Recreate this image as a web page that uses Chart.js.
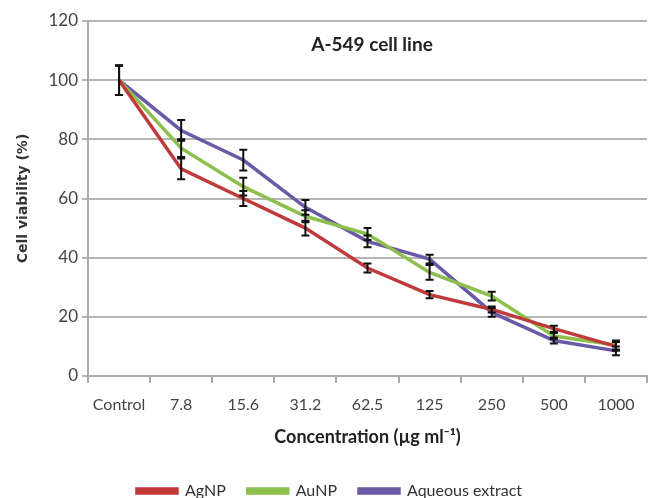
<!DOCTYPE html>
<html>
<head>
<meta charset="utf-8">
<script src="https://cdn.jsdelivr.net/npm/chart.js@4"></script>
<style>
  html, body { margin: 0; padding: 0; background: #fff; }
  #wrap { width: 648px; height: 498px; position: relative; }
</style>
</head>
<body>
<div id="wrap"><canvas id="grafico"></canvas></div>
<script>
const categorias = ['Control', '7.8', '15.6', '31.2', '62.5', '125', '250', '500', '1000'];
const agnp = [100, 70, 60, 50, 36.5, 27.5, 22.5, 16, 10];
const aunp = [100, 77, 64, 54, 48, 35, 27, 13.5, 10.5];
const acuoso = [100, 83, 73, 57, 45.5, 39.5, 21.5, 12, 8.5];
const errAgnp = [5, 3.5, 2.5, 2.5, 1.5, 1.2, 1, 1, 1.5];
const errAunp = [5, 3, 3, 2, 2, 2.5, 1.5, 1, 1.5];
const errAcuoso = [5, 3.5, 3.5, 2.5, 2, 1.5, 1.5, 1, 1.5];
const ticksY = [0, 20, 40, 60, 80, 100, 120];

const fuente = "'Lato', sans-serif";

// barras de error y titulo interno
const extras = {
  id: 'extras',
  afterDatasetsDraw: function (chart) {
    const ctx = chart.ctx;
    const y = chart.scales.y;
    ctx.save();
    ctx.strokeStyle = '#111';
    ctx.lineWidth = 2;
    chart.data.datasets.forEach(function (ds, i) {
      const meta = chart.getDatasetMeta(i);
      meta.data.forEach(function (pt, j) {
        const e = ds.errores[j];
        const y1 = y.getPixelForValue(ds.data[j] + e);
        const y2 = y.getPixelForValue(ds.data[j] - e);
        ctx.beginPath();
        ctx.moveTo(pt.x, y1); ctx.lineTo(pt.x, y2);
        ctx.moveTo(pt.x - 4, y1); ctx.lineTo(pt.x + 4, y1);
        ctx.moveTo(pt.x - 4, y2); ctx.lineTo(pt.x + 4, y2);
        ctx.stroke();
      });
    });
    ctx.fillStyle = '#222';
    ctx.font = "bold 19px " + fuente;
    ctx.textAlign = 'center';
    ctx.textBaseline = 'middle';
    ctx.fillText('A-549 cell line', 372, 45);
    ctx.restore();
  }
};

function serie(nombre, datos, errores, color) {
  return {
    label: nombre,
    data: datos,
    errores: errores,
    borderColor: color,
    backgroundColor: color,
    borderWidth: 3.5,
    pointRadius: 0,
    tension: 0
  };
}

new Chart(document.getElementById('grafico'), {
  type: 'line',
  data: {
    labels: categorias,
    datasets: [
      serie('AgNP', agnp, errAgnp, '#c0393b'),
      serie('AuNP', aunp, errAunp, '#8dbf4c'),
      serie('Aqueous extract', acuoso, errAcuoso, '#6a5aa6')
    ]
  },
  options: {
    responsive: true,
    maintainAspectRatio: false,
    animation: false,
    layout: { padding: { top: 21, right: 1, left: 12, bottom: -11 } },
    scales: {
      x: {
        offset: true,
        afterFit: function (s) { s.height = 85; },
        grid: { display: true, drawOnChartArea: false, offset: true, tickLength: 7, color: '#aaa', lineWidth: 2 },
        border: { color: '#aaa', width: 2 },
        ticks: { color: '#444', font: { family: fuente, size: 16 }, padding: 12, maxRotation: 0 },
        title: { display: true, text: 'Concentration (µg ml⁻¹)', color: '#222', font: { family: fuente, size: 18, weight: 'bold' }, padding: { top: 14, bottom: 13 } }
      },
      y: {
        min: 0,
        max: 120,
        afterFit: function (s) { s.width = 76; },
        afterBuildTicks: function (ax) {
          ax.ticks = ticksY.map(function (v) { return { value: v }; });
        },
        grid: { color: '#b5b5b5', lineWidth: 2, tickLength: 6 },
        border: { color: '#aaa', width: 2 },
        ticks: { color: '#444', font: { family: fuente, size: 17 }, padding: 4 },
        title: { display: true, text: 'Cell viability (%)', color: '#333', font: { family: "'DejaVu Sans', sans-serif", size: 14, weight: 'bold' }, padding: { top: 3, bottom: 8 } }
      }
    },
    plugins: {
      legend: {
        position: 'bottom',
        labels: { color: '#333', boxWidth: 40, boxHeight: 4, padding: 22, font: { family: fuente, size: 16 } }
      },
      tooltip: { enabled: false }
    }
  },
  plugins: [extras]
});
</script>
</body>
</html>
